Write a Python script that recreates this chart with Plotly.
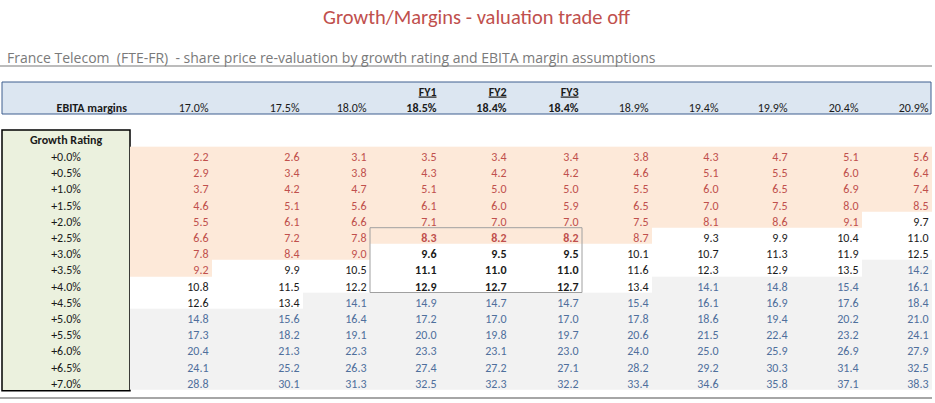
import plotly.graph_objects as go

# ---------------- data ----------------
margin_labels = ["17.0%", "17.5%", "18.0%", "18.5%", "18.4%", "18.4%",
                 "18.9%", "19.4%", "19.9%", "20.4%", "20.9%"]
fy_labels = ["", "", "", "FY1", "FY2", "FY3", "", "", "", "", ""]
growth_labels = ["+0.0%", "+0.5%", "+1.0%", "+1.5%", "+2.0%", "+2.5%", "+3.0%",
                 "+3.5%", "+4.0%", "+4.5%", "+5.0%", "+5.5%", "+6.0%", "+6.5%", "+7.0%"]

row_g00 = [2.2, 2.6, 3.1, 3.5, 3.4, 3.4, 3.8, 4.3, 4.7, 5.1, 5.6]
row_g05 = [2.9, 3.4, 3.8, 4.3, 4.2, 4.2, 4.6, 5.1, 5.5, 6.0, 6.4]
row_g10 = [3.7, 4.2, 4.7, 5.1, 5.0, 5.0, 5.5, 6.0, 6.5, 6.9, 7.4]
row_g15 = [4.6, 5.1, 5.6, 6.1, 6.0, 5.9, 6.5, 7.0, 7.5, 8.0, 8.5]
row_g20 = [5.5, 6.1, 6.6, 7.1, 7.0, 7.0, 7.5, 8.1, 8.6, 9.1, 9.7]
row_g25 = [6.6, 7.2, 7.8, 8.3, 8.2, 8.2, 8.7, 9.3, 9.9, 10.4, 11.0]
row_g30 = [7.8, 8.4, 9.0, 9.6, 9.5, 9.5, 10.1, 10.7, 11.3, 11.9, 12.5]
row_g35 = [9.2, 9.9, 10.5, 11.1, 11.0, 11.0, 11.6, 12.3, 12.9, 13.5, 14.2]
row_g40 = [10.8, 11.5, 12.2, 12.9, 12.7, 12.7, 13.4, 14.1, 14.8, 15.4, 16.1]
row_g45 = [12.6, 13.4, 14.1, 14.9, 14.7, 14.7, 15.4, 16.1, 16.9, 17.6, 18.4]
row_g50 = [14.8, 15.6, 16.4, 17.2, 17.0, 17.0, 17.8, 18.6, 19.4, 20.2, 21.0]
row_g55 = [17.3, 18.2, 19.1, 20.0, 19.8, 19.7, 20.6, 21.5, 22.4, 23.2, 24.1]
row_g60 = [20.4, 21.3, 22.3, 23.3, 23.1, 23.0, 24.0, 25.0, 25.9, 26.9, 27.9]
row_g65 = [24.1, 25.2, 26.3, 27.4, 27.2, 27.1, 28.2, 29.2, 30.3, 31.4, 32.5]
row_g70 = [28.8, 30.1, 31.3, 32.5, 32.3, 32.2, 33.4, 34.6, 35.8, 37.1, 38.3]
values = [row_g00, row_g05, row_g10, row_g15, row_g20, row_g25, row_g30, row_g35,
          row_g40, row_g45, row_g50, row_g55, row_g60, row_g65, row_g70]

# thresholds for conditional shading (below current price / well above)
low_threshold = 9.25
high_threshold = 14.0
fy_cols = [3, 4, 5]
fy_rows = [5, 6, 7, 8]

# ---------------- layout constants ----------------
W, H = 935, 403
FONT = "Carlito, Calibri, Lato, sans-serif"
SUB_FONT = "Open Sans, sans-serif"
FS = 12
col_edges = [130, 212, 303, 370, 440, 510, 582, 652, 722, 791, 862, 932]
row_top = 146.7
row_h = 16.2
row_edges = [row_top + row_h * i for i in range(len(growth_labels) + 1)]
row_text_y = [e + 11.3 for e in row_edges[:-1]]
pad = 3.5

PINK, WHITE, GREY = "#fde9d9", "#ffffff", "#f2f2f2"
RED_T, BLACK_T, BLUE_T = "#c0504d", "#1a1a1a", "#4f6f9c"

def category(v):
    if v < low_threshold:
        return 0
    if v >= high_threshold:
        return 2
    return 1

z = [[category(v) for v in row] for row in values]

fig = go.Figure()

# cell backgrounds
fig.add_trace(go.Heatmap(
    x=col_edges, y=row_edges, z=z, zmin=0, zmax=2,
    colorscale=[[0, PINK], [0.33, PINK], [0.34, WHITE], [0.66, WHITE], [0.67, GREY], [1, GREY]],
    showscale=False, hoverinfo="skip", xgap=0, ygap=0))

# cell values
tx, ty, tt, tc = [], [], [], []
for i, row in enumerate(values):
    for j, v in enumerate(row):
        tx.append(col_edges[j + 1] - pad)
        ty.append(row_text_y[i])
        s = f"{v:.1f}"
        if i in fy_rows and j in fy_cols:
            s = f"<b>{s}</b>"
        tt.append(s)
        c = z[i][j]
        tc.append(RED_T if c == 0 else (BLUE_T if c == 2 else BLACK_T))
fig.add_trace(go.Scatter(x=tx, y=ty, text=tt, mode="text", textposition="middle left",
                         textfont=dict(family=FONT, size=FS, color=tc),
                         hoverinfo="skip", showlegend=False))

# growth rating labels
fig.add_trace(go.Scatter(x=[66] * len(growth_labels), y=row_text_y, text=growth_labels,
                         mode="text", textposition="middle center",
                         textfont=dict(family=FONT, size=FS, color="#1a1a1a"),
                         hoverinfo="skip", showlegend=False))
fig.add_trace(go.Scatter(x=[66], y=[140.5], text=["<b>Growth Rating</b>"], mode="text",
                         textposition="middle center",
                         textfont=dict(family=FONT, size=FS, color="#1a1a1a"),
                         hoverinfo="skip", showlegend=False))

# header labels
hx = [col_edges[j + 1] - pad for j in range(len(margin_labels))]
htxt = [f"<b>{m}</b>" if j in fy_cols else m for j, m in enumerate(margin_labels)]
fig.add_trace(go.Scatter(x=hx, y=[108.5] * len(hx), text=htxt, mode="text",
                         textposition="middle left",
                         textfont=dict(family=FONT, size=FS, color="#1a1a1a"),
                         hoverinfo="skip", showlegend=False))
fyx = [hx[j] for j in range(len(fy_labels)) if fy_labels[j]]
fyt = [f"<b><u>{f}</u></b>" for f in fy_labels if f]
fig.add_trace(go.Scatter(x=fyx, y=[92.5] * len(fyx), text=fyt, mode="text",
                         textposition="middle left",
                         textfont=dict(family=FONT, size=FS, color="#1a1a1a"),
                         hoverinfo="skip", showlegend=False))
fig.add_trace(go.Scatter(x=[127], y=[108.5], text=["<b>EBITA margins</b>"], mode="text",
                         textposition="middle left",
                         textfont=dict(family=FONT, size=FS, color="#1a1a1a"),
                         hoverinfo="skip", showlegend=False))

shapes = [
    # header band
    dict(type="rect", x0=2, x1=931, y0=82, y1=114, fillcolor="#dce6f1",
         line=dict(color="#3f5f8f", width=1), layer="below"),
    # growth rating column
    dict(type="rect", x0=2, x1=130, y0=130, y1=row_edges[-1] + 1, fillcolor="#ebf1de",
         line=dict(color="#000000", width=1.5), layer="below"),
    # FY box
    dict(type="rect", x0=col_edges[fy_cols[0]], x1=col_edges[fy_cols[-1] + 1],
         y0=row_edges[fy_rows[0]], y1=row_edges[fy_rows[-1] + 1],
         line=dict(color="#a0a0a0", width=1), layer="above"),
    # subtitle underline
    dict(type="line", x0=0, x1=932, y0=66, y1=66, line=dict(color="#a6a6a6", width=1.5)),
    # bottom line
    dict(type="line", x0=0, x1=932, y0=398, y1=398, line=dict(color="#a6a6a6", width=2)),
]

annotations = [
    dict(x=476, y=17, text="Growth/Margins - valuation trade off", showarrow=False,
         xanchor="center", yanchor="middle",
         font=dict(family=FONT, size=20.5, color="#c0504d")),
    dict(x=5, y=57, text="France Telecom  (FTE-FR)  - share price re-valuation by growth rating and EBITA margin assumptions",
         showarrow=False, xanchor="left", yanchor="middle",
         font=dict(family=SUB_FONT, size=14, color="#7a7a7a")),
]

fig.update_layout(
    width=W, height=H, margin=dict(l=0, r=0, t=0, b=0),
    paper_bgcolor="white", plot_bgcolor="white",
    xaxis=dict(range=[0, W], visible=False, fixedrange=True),
    yaxis=dict(range=[H, 0], visible=False, fixedrange=True),
    shapes=shapes, annotations=annotations, showlegend=False,
)

fig.write_html("out.html", post_script="document.body.style.margin='0';",
               config={"displayModeBar": False})
